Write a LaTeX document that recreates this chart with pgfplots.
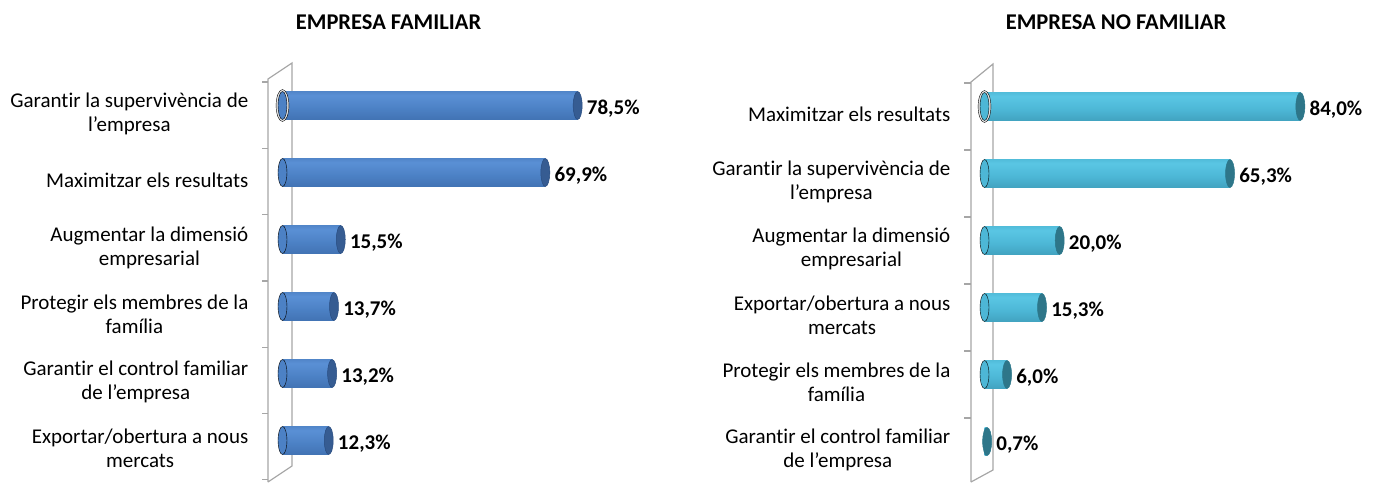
\documentclass[border=0pt]{standalone}
\usepackage{pgfplots}
\pgfplotsset{compat=1.18}
\usepackage{fontspec}
\setmainfont{Carlito}[RawFeature={-liga;-clig;-dlig;-calt}]
\definecolor{aTop}{HTML}{3F70B0}
\definecolor{aLight}{HTML}{5A90D5}
\definecolor{aMid}{HTML}{4C81C5}
\definecolor{aLow}{HTML}{3B6AA9}
\definecolor{aBot}{HTML}{284C80}
\definecolor{aCap}{HTML}{365C92}
\definecolor{cTop}{HTML}{42A9C6}
\definecolor{cLight}{HTML}{5AC6E4}
\definecolor{cMid}{HTML}{4DB7D6}
\definecolor{cLow}{HTML}{3A96B1}
\definecolor{cBot}{HTML}{2A768A}
\definecolor{cCap}{HTML}{2E7689}
\definecolor{wall}{HTML}{A6A6A6}
\pgfdeclareverticalshading{cylA}{100bp}{color(0bp)=(aBot); color(12bp)=(aLow); color(45bp)=(aMid); color(68bp)=(aLight); color(90bp)=(aTop); color(100bp)=(aTop)}
\pgfdeclareverticalshading{cylC}{100bp}{color(0bp)=(cBot); color(12bp)=(cLow); color(45bp)=(cMid); color(68bp)=(cLight); color(90bp)=(cTop); color(100bp)=(cTop)}
\newcommand{\lblfont}{\fontsize{21}{24}\selectfont}
\pgfplotsset{
  cylaxis/.style={
    anchor=north west, width=376pt, height=402pt, scale only axis,
    xmin=0, xmax=100, ymin=-0.5, ymax=5.5, y dir=reverse,
    axis line style={draw=none}, tick style={draw=none},
    xtick=\empty, ytick={0,1,2,3,4,5},
    yticklabel style={font=\lblfont, align=center, anchor=east, inner sep=0pt, xshift=-34pt, yshift=-8pt},
    clip=false,
  },
  barA/.style={xbar, bar width=28pt, bar shift=0pt, draw=none, shading=cylA},
  barC/.style={xbar, bar width=28pt, bar shift=0pt, draw=none, shading=cylC},
}
\begin{document}
\begin{tikzpicture}[x=1pt,y=1pt]
\useasboundingbox (0,0) rectangle (1373,482);
% titles
\node[font=\bfseries\fontsize{22.5}{26}\selectfont] at (388.5,460) {EMPRESA FAMILIAR};
\node[font=\bfseries\fontsize{22.5}{26}\selectfont] at (1116,460) {EMPRESA NO FAMILIAR};
% left wall
\draw[wall, line width=1.2pt] (268,0) -- (268,403) -- (292,419) -- (292,16) -- (268,0);
\foreach \t in {82,148.3,214.6,281,347.2,413.5,479.8} \draw[wall, line width=1.2pt] (262,482-\t) -- (268,482-\t);
% right wall
\draw[wall, line width=1.2pt] (971,0) -- (971,400) -- (993,418) -- (993,12) -- (971,0);
\foreach \t in {83,150,217,284,351,418} \draw[wall, line width=1.2pt] (964,482-\t) -- (971,482-\t);

\begin{axis}[cylaxis, at={(282.5pt,410pt)},
  yticklabels={{Garantir la supervivència de\\l’empresa},{Maximitzar els resultats},{Augmentar la dimensió\\empresarial},{Protegir els membres de la\\família},{Garantir el control familiar\\de l’empresa},{Exportar/obertura a nous\\mercats}}]
\addplot[only marks, mark=*, mark size=16pt, mark options={xscale=0.4, fill=gray!20, draw=none}] coordinates {(0,0)};
\addplot[only marks, mark=*, mark size=14pt, mark options={xscale=0.32, fill=aMid, draw=none}] coordinates {(0,0) (0,1) (0,2) (0,3) (0,4) (0,5)};
\addplot[barA] coordinates {(78.5,0)};
\addplot[barA] coordinates {(69.9,1)};
\addplot[barA] coordinates {(15.5,2)};
\addplot[barA] coordinates {(13.7,3)};
\addplot[barA] coordinates {(13.2,4)};
\addplot[barA] coordinates {(12.3,5)};
\addplot[only marks, mark=*, mark size=14pt, mark options={xscale=0.32, fill=aCap, draw=aBot, line width=0.5pt},
  point meta=explicit symbolic, nodes near coords,
  nodes near coords style={font=\bfseries\lblfont, anchor=west, xshift=9pt, yshift=-3pt, inner sep=0pt}]
  coordinates {(78.5,0) [78,5\%] (69.9,1) [69,9\%] (15.5,2) [15,5\%] (13.7,3) [13,7\%] (13.2,4) [13,2\%] (12.3,5) [12,3\%]};
\end{axis}

\begin{axis}[cylaxis, at={(984.5pt,409pt)},
  yticklabels={{Maximitzar els resultats},{Garantir la supervivència de\\l’empresa},{Augmentar la dimensió\\empresarial},{Exportar/obertura a nous\\mercats},{Protegir els membres de la\\família},{Garantir el control familiar\\de l’empresa}}]
\addplot[only marks, mark=*, mark size=16pt, mark options={xscale=0.4, fill=gray!20, draw=none}] coordinates {(0,0)};
\addplot[only marks, mark=*, mark size=14pt, mark options={xscale=0.32, fill=cMid, draw=none}] coordinates {(0,0) (0,1) (0,2) (0,3) (0,4)};
\addplot[barC] coordinates {(84.0,0)};
\addplot[barC] coordinates {(65.3,1)};
\addplot[barC] coordinates {(20.0,2)};
\addplot[barC] coordinates {(15.3,3)};
\addplot[barC] coordinates {(6.0,4)};
\addplot[barC] coordinates {(0.7,5)};
\addplot[only marks, mark=*, mark size=14pt, mark options={xscale=0.32, fill=cCap, draw=cBot, line width=0.5pt},
  point meta=explicit symbolic, nodes near coords,
  nodes near coords style={font=\bfseries\lblfont, anchor=west, xshift=9pt, yshift=-3pt, inner sep=0pt}]
  coordinates {(84.0,0) [84,0\%] (65.3,1) [65,3\%] (20.0,2) [20,0\%] (15.3,3) [15,3\%] (6.0,4) [6,0\%] (0.7,5) [0,7\%]};
\end{axis}
\end{tikzpicture}
\end{document}
